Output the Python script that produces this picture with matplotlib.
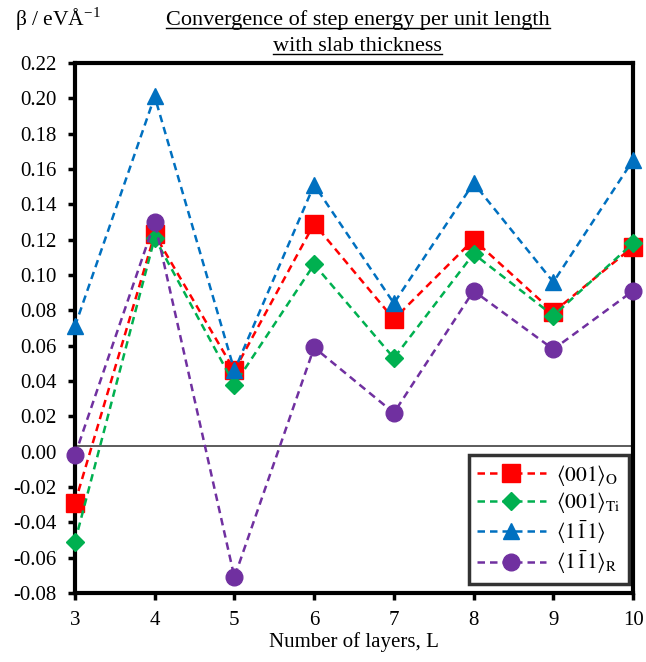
import matplotlib
matplotlib.use('Agg')
import matplotlib.pyplot as plt

plt.rcParams['font.family'] = ['Liberation Serif', 'DejaVu Serif']
plt.rcParams['mathtext.fontset'] = 'stix'

layers = [3, 4, 5, 6, 7, 8, 9, 10]
beta_001_O = [-0.029, 0.123, 0.046, 0.129, 0.075, 0.120, 0.079, 0.116]
beta_001_Ti = [-0.051, 0.121, 0.038, 0.106, 0.053, 0.112, 0.077, 0.118]
beta_111 = [0.071, 0.201, 0.046, 0.151, 0.084, 0.152, 0.096, 0.165]
beta_111_R = [-0.002, 0.130, -0.071, 0.059, 0.022, 0.091, 0.058, 0.091]

labels = [r'$\langle001\rangle_{\mathrm{O}}$',
          r'$\langle001\rangle_{\mathrm{Ti}}$',
          r'$\langle1\bar{1}1\rangle$',
          r'$\langle1\bar{1}1\rangle_{\mathrm{R}}$']
colours = ['#FF0000', '#00B050', '#0070C0', '#7030A0']
markers = ['s', 'D', '^', 'o']
msizes = [13, 9, 12, 12]

fig = plt.figure(figsize=(6.46, 6.62), dpi=100)
ax = fig.add_axes([0.116, 0.104, 0.864, 0.801])

series = [beta_001_O, beta_001_Ti, beta_111, beta_111_R]
for ys, c, m, ms, lab in zip(series, colours, markers, msizes, labels):
    ax.plot(layers, ys, color=c, marker=m, markersize=ms, linestyle=(0, (3, 2)),
            linewidth=1.8, label=lab, clip_on=False, zorder=3)

ax.axhline(0.003, color='#404040', linewidth=1.2, zorder=1)

ax.set_xlim(3, 10)
ax.set_ylim(-0.08, 0.22)
ax.set_xticks(layers)
ax.set_yticks([i * 0.02 - 0.08 for i in range(16)])
ax.set_yticklabels(['%.2f' % (i * 0.02 - 0.08) for i in range(16)])
ax.tick_params(axis='both', direction='out', length=5, width=2.5, labelsize=15)
ax.tick_params(axis='y', pad=8)
ax.tick_params(axis='x', pad=8)
for s in ax.spines.values():
    s.set_linewidth(3)
ax.set_xlabel('Number of layers, L', fontsize=15, labelpad=1)

leg = ax.legend(loc='lower right', fontsize=15.5, frameon=True, fancybox=False,
                handlelength=3.2, borderpad=0.35, labelspacing=0.12,
                handletextpad=0.5, borderaxespad=0,
                bbox_to_anchor=(0.992, 0.018))
leg.get_frame().set_edgecolor('black')
leg.get_frame().set_linewidth(2.5)

fig.text(0.023, 0.971, r'β / eVÅ$^{\mathregular{-1}}$', fontsize=15.5, va='center')
t1 = fig.text(0.554, 0.970, 'Convergence of step energy per unit length',
              fontsize=16, ha='center', va='center')
t2 = fig.text(0.554, 0.930, 'with slab thickness',
              fontsize=16, ha='center', va='center')

# underline the two title lines
fig.canvas.draw()
r = fig.canvas.get_renderer()
inv = fig.transFigure.inverted()
for t in (t1, t2):
    bb = t.get_window_extent(r)
    (x0, y0), (x1, _) = inv.transform([(bb.x0, bb.y0 + 2), (bb.x1, bb.y1)])
    fig.add_artist(plt.Line2D([x0, x1], [y0, y0], color='black', linewidth=1,
                              transform=fig.transFigure))

fig.savefig('out.png', dpi=100)
